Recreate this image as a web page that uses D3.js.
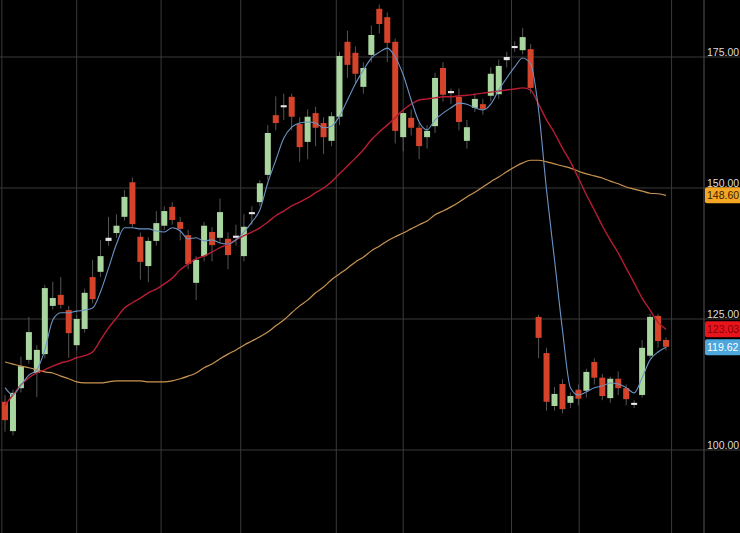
<!DOCTYPE html>
<html><head><meta charset="utf-8">
<script src="https://cdn.jsdelivr.net/npm/d3@7"></script>
<style>html,body{margin:0;padding:0;background:#000;}svg{display:block;}</style>
</head><body>
<svg id="c" width="740" height="533"></svg>
<script>
const opens  = [109.2,103.6,111.8,117.2,114.7,118.3,127.5,129.6,126.7,120.0,123.1,133.0,134.0,139.9,141.4,144.5,151.1,140.7,135.1,139.9,142.8,146.4,143.5,141.0,131.9,137.0,141.6,140.5,140.3,140.9,137.0,145.0,147.3,152.5,163.9,165.4,167.4,162.2,158.8,164.3,162.4,159.0,163.6,177.9,175.8,169.3,175.4,184.2,182.6,177.9,159.7,163.4,161.5,159.7,161.8,172.9,168.5,167.4,159.0,165.3,166.0,167.6,167.9,175.0,176.7,176.3,176.5,125.4,118.5,108.4,112.6,109.0,111.5,111.3,116.8,113.8,109.9,113.6,111.8,108.6,110.5,118.0,125.6,121.0];
const closes = [105.7,110.9,116.0,122.5,119.1,130.9,129.0,127.7,122.3,125.0,130.0,128.8,137.0,140.5,142.8,148.3,143.1,135.9,139.9,143.3,145.6,143.9,142.2,135.5,136.3,142.8,139.1,145.4,137.2,140.5,142.6,145.4,150.9,160.5,162.4,165.8,163.6,157.8,163.6,161.5,159.7,163.7,175.2,173.5,171.8,172.9,179.2,181.3,177.7,160.9,164.3,161.5,158.0,160.9,171.0,167.8,168.1,162.6,161.6,167.0,165.1,171.8,173.3,174.4,177.1,178.8,169.1,121.4,109.2,110.7,107.8,110.3,109.8,114.9,113.8,110.3,113.6,111.8,109.7,109.0,119.5,125.4,120.8,119.7];
const highs  = [110.5,111.5,117.8,125.4,120.0,131.5,132.1,133.0,127.5,125.8,130.8,136.3,140.1,144.5,145.0,149.6,152.0,141.5,140.6,145.6,146.5,147.3,144.5,142.0,137.0,143.5,142.5,148.0,141.5,143.0,145.0,146.5,151.5,162.0,167.5,168.0,168.0,163.5,165.0,165.5,163.5,164.5,176.0,180.0,177.0,174.0,181.0,185.0,183.5,178.5,165.0,165.0,162.5,162.0,172.0,174.0,169.0,169.0,163.0,168.0,167.0,173.0,174.5,176.0,178.0,180.5,177.5,125.8,119.5,112.0,113.5,111.0,112.5,115.5,117.5,114.5,114.0,115.0,112.5,109.5,121.0,126.0,126.0,121.5];
const lows   = [103.5,102.8,111.0,116.5,110.1,117.5,126.8,127.0,117.6,119.0,122.4,128.0,133.0,139.0,140.5,143.8,142.5,132.5,132.0,139.0,142.0,143.0,140.0,134.5,128.6,136.0,136.0,139.5,134.5,139.0,136.0,143.0,146.5,151.5,161.0,163.0,161.0,155.0,155.5,158.0,156.5,158.0,162.0,171.0,170.0,168.0,174.0,179.5,174.0,158.5,157.0,160.0,155.5,157.5,160.5,166.5,166.0,161.0,157.5,164.5,164.0,166.5,167.0,173.0,176.0,175.5,168.0,117.5,107.5,107.5,107.0,108.0,108.5,110.0,112.5,109.5,109.0,110.5,108.5,108.0,110.0,117.5,119.5,119.0];
const maFast = [111.9,110.5,112.4,114.3,115.3,119.1,124.8,126.2,126.2,126.5,126.7,127.1,130.2,134.7,139.3,142.4,142.4,142.2,142.2,141.8,141.6,142.4,141.8,140.3,140.5,139.9,140.1,139.5,139.3,140.1,141.6,143.5,145.8,151.0,155.3,159.5,161.6,162.4,162.6,162.4,161.5,161.8,163.7,166.8,169.9,172.5,174.8,175.9,176.7,175.0,171.6,166.8,162.6,161.1,163.0,164.3,165.3,166.2,166.0,165.3,164.9,166.0,168.7,171.0,173.1,174.8,173.7,164.9,149.6,136.3,122.9,111.9,110.5,111.1,111.9,112.2,112.8,112.6,111.9,110.9,113.8,117.2,118.7,119.6];
const maMid  = [108.6,110.5,112.4,113.8,114.7,115.3,116.0,116.6,117.0,117.6,118.0,118.7,121.0,123.3,125.2,127.1,128.1,129.0,130.0,130.7,131.7,132.8,134.4,135.5,136.5,137.0,137.8,138.6,139.3,140.1,140.9,141.6,142.4,143.5,144.7,145.6,146.6,147.3,148.1,149.1,150.0,151.2,152.7,154.2,155.7,157.3,159.2,160.7,162.0,163.4,164.9,166.0,166.8,167.0,167.2,167.4,167.4,167.6,167.7,167.9,168.1,168.3,168.5,168.7,168.9,169.1,168.7,166.0,163.0,160.5,157.6,155.0,151.9,148.7,145.8,142.8,140.1,137.6,134.7,131.9,129.0,126.7,124.4,123.03];
const maSlow = [116.8,116.4,116.0,115.7,115.3,114.9,114.7,114.1,113.6,113.0,112.8,112.8,112.8,113.0,113.2,113.2,113.2,113.2,113.0,113.0,113.0,113.2,113.6,114.1,114.7,115.7,116.4,117.4,118.3,119.1,120.0,120.8,121.6,122.5,123.7,124.8,126.2,127.5,128.6,130.0,131.1,132.5,133.6,134.7,135.9,136.8,138.0,138.9,139.9,140.7,141.4,142.2,143.0,143.7,144.9,145.6,146.4,147.3,148.3,149.2,150.2,151.2,152.1,153.1,154.0,154.8,155.3,155.3,155.0,154.6,154.2,153.8,153.2,152.7,152.3,151.9,151.3,150.8,150.2,149.8,149.4,149.0,148.9,148.6];
const yTicks = [100,125,150,175];
const gridIdx = [-0.4,9.0,19.6,29.6,41.6,50.0,63.6,72.1,83.7];
const lastLabels = [{v:148.60,t:"148.60"},{v:123.03,t:"123.03"},{v:119.62,t:"119.62"}];

const svg = d3.select("#c");
const W=740,H=533,axX=704;
const x = d3.scaleLinear().domain([0,83]).range([5,666]);
const y = d3.scaleLinear().domain([100,175]).range([450,57]);
const FONT="Arial, Liberation Sans, sans-serif";

svg.append("g").selectAll("line").data(gridIdx).join("line")
  .attr("x1",d=>x(d)).attr("x2",d=>x(d)).attr("y1",0).attr("y2",H)
  .attr("stroke","#3a3a3a").attr("stroke-width",1);
svg.append("g").selectAll("line").data(yTicks).join("line")
  .attr("x1",0).attr("x2",W).attr("y1",d=>y(d)).attr("y2",d=>y(d))
  .attr("stroke","#3a3a3a").attr("stroke-width",1);
svg.append("line").attr("x1",axX).attr("x2",axX).attr("y1",0).attr("y2",H).attr("stroke","#555");

const ax = d3.axisRight(y).tickValues(yTicks).tickFormat(d3.format(".2f")).tickSize(0).tickPadding(3);
const g = svg.append("g").attr("transform",`translate(${axX},0)`).call(ax);
g.select(".domain").remove();
g.selectAll("text").attr("fill","#ddd").attr("font-family",FONT).attr("font-size",10.5).attr("dy","-0.1em");

const idx = d3.range(opens.length);
const color = i => Math.abs(closes[i]-opens[i])<0.6 ? "#e6e6e6" : (closes[i]>=opens[i] ? "#a9d59e" : "#d5432b");
svg.append("g").selectAll("line").data(idx).join("line")
  .attr("x1",i=>x(i)).attr("x2",i=>x(i)).attr("y1",i=>y(highs[i])).attr("y2",i=>y(lows[i]))
  .attr("stroke","#555").attr("stroke-width",1);
svg.append("g").selectAll("rect").data(idx).join("rect")
  .attr("x",i=>x(i)-3).attr("width",6)
  .attr("y",i=>y(Math.max(opens[i],closes[i])))
  .attr("height",i=>Math.max(2,Math.abs(y(opens[i])-y(closes[i]))))
  .attr("fill",color);

const line = arr => d3.line().x((d,i)=>x(i)).y(d=>y(d)).curve(d3.curveMonotoneX)(arr);
svg.append("path").attr("d",line(maSlow)).attr("fill","none").attr("stroke","#c99550").attr("stroke-width",1.2);
svg.append("path").attr("d",line(maMid)).attr("fill","none").attr("stroke","#b81c34").attr("stroke-width",1.4);
svg.append("path").attr("d",line(maFast)).attr("fill","none").attr("stroke","#6b94c4").attr("stroke-width",1.1);

const bg=["#f5a623","#e8141c","#4da6dc"], fg=["#3a2000","#8a0008","#ffffff"];
lastLabels.forEach((l,k)=>{
  const cy=y(l.v);
  svg.append("rect").attr("x",axX+1).attr("y",cy-8).attr("width",W-axX).attr("height",16).attr("rx",2).attr("fill",bg[k]);
  svg.append("text").attr("x",axX+3).attr("y",cy+4).text(l.t).attr("fill",fg[k])
    .attr("font-family",FONT).attr("font-size",10.5);
});
</script>
</body></html>
